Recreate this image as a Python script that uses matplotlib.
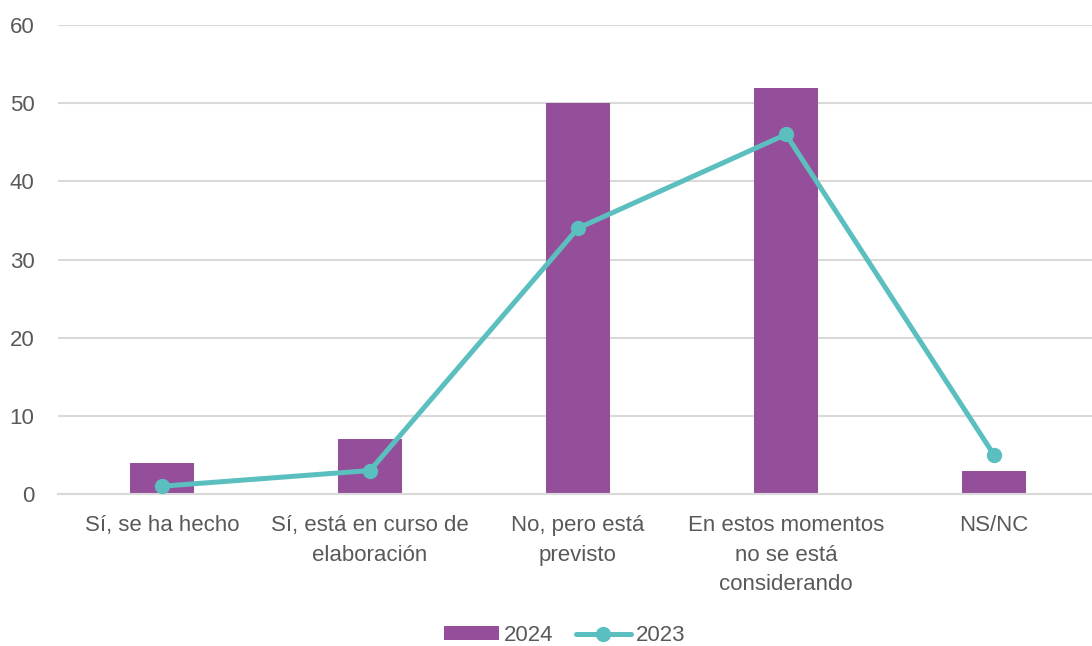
import numpy as np
import matplotlib.pyplot as plt

plt.rcParams['font.family'] = ['Liberation Sans', 'DejaVu Sans']

categorias = ['Sí, se ha hecho', 'Sí, está en curso de\nelaboración', 'No, pero está\nprevisto',
              'En estos momentos\nno se está\nconsiderando', 'NS/NC']
valores_2024 = [4, 7, 50, 52, 3]
valores_2023 = [1, 3, 34, 46, 5]

morado = '#954F9A'
turquesa = '#5BBFBF'
gris = '#595959'

fig = plt.figure(figsize=(10.92, 6.46), dpi=100)
ax = fig.add_axes([58 / 1092, (646 - 494) / 646, 1040 / 1092, (494 - 25) / 646])

x = np.arange(len(categorias))
barras = ax.bar(x, valores_2024, width=0.31, color=morado, label='2024', zorder=2)
linea, = ax.plot(x, valores_2023, color=turquesa, lw=3.6, marker='o', markersize=10,
                 label='2023', zorder=3, solid_capstyle='round')

ax.set_xlim(-0.5, 4.5)
ax.set_ylim(0, 60)
ax.set_yticks(range(0, 61, 10))
ax.yaxis.grid(True, color='#d9d9d9', lw=1.5, zorder=0)
ax.set_axisbelow(True)
for s in ['top', 'right', 'left']:
    ax.spines[s].set_visible(False)
ax.spines['bottom'].set_color('#d9d9d9')
ax.spines['bottom'].set_linewidth(1.5)
ax.tick_params(axis='both', length=0, labelsize=16, colors=gris)
ax.tick_params(axis='y', pad=17)
ax.tick_params(axis='x', pad=15)
ax.set_xticks(x)
ax.set_xticklabels(categorias, linespacing=1.55)

ax.legend([barras, linea], ['2024', '2023'], loc='center', bbox_to_anchor=(0.487, -0.302),
          ncol=2, frameon=False, fontsize=16, labelcolor=gris, handlelength=2.5,
          handleheight=0.6, handletextpad=0.2, columnspacing=1.0)

fig.savefig('out.png', dpi=100)
